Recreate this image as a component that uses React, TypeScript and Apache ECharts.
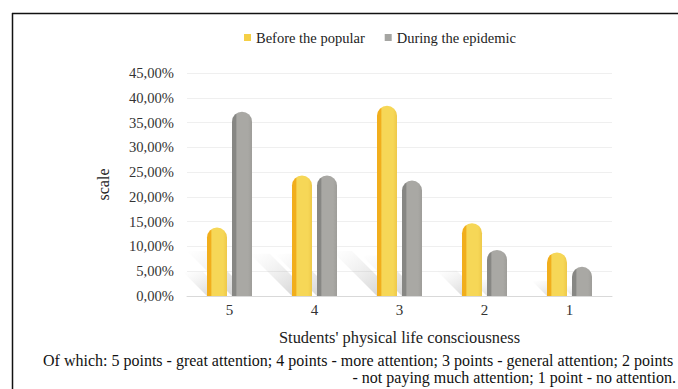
import React, { useEffect, useRef } from "react";
import * as echarts from "echarts";

const categories = ["5", "4", "3", "2", "1"];
const beforeValues = [13.8, 24.3, 38.4, 14.7, 8.8];
const duringValues = [37.2, 24.3, 23.3, 9.3, 5.9];
const seriesNames = ["Before the popular", "During the epidemic"];
const yTicks = { min: 0, max: 45, interval: 5 };
const xAxisName = "Students' physical life consciousness";
const yAxisName = "scale";
const noteLine1 = "Of which: 5 points - great attention; 4 points - more attention; 3 points - general attention; 2 points";
const noteLine2 = "- not paying much attention; 1 point - no attention.";

const FONT = "'Liberation Serif', 'Times New Roman', serif";

function barGradient(edge: string, face: string, faceDark: string) {
  return new echarts.graphic.LinearGradient(0, 0, 1, 0, [
    { offset: 0, color: edge },
    { offset: 0.2, color: edge },
    { offset: 0.24, color: face },
    { offset: 0.8, color: face },
    { offset: 1, color: faceDark },
  ]);
}

export default function App() {
  const ref = useRef<HTMLDivElement>(null);
  useEffect(() => {
    if (!ref.current) return;
    const chart = echarts.init(ref.current, undefined, { renderer: "svg" });
    const shadowData = categories.map((_, i) => [i, beforeValues[i], duringValues[i]]);
    const BW = 20;
    const GAP = 5;
    chart.setOption({
      animation: false,
      backgroundColor: "#ffffff",
      textStyle: { fontFamily: FONT },
      legend: {
        top: 25,
        left: 239,
        itemWidth: 7,
        itemHeight: 7,
        itemGap: 20,
        icon: "rect",
        textStyle: { fontFamily: FONT, fontSize: 14.5, color: "#222" },
        data: [
          { name: seriesNames[0], itemStyle: { color: "#F5CF45" } },
          { name: seriesNames[1], itemStyle: { color: "#A5A5A2" } },
        ],
      },
      grid: { left: 187, right: 66, top: 73, bottom: 93 },
      xAxis: {
        type: "category",
        data: categories,
        axisTick: { show: false },
        axisLine: { lineStyle: { color: "#d9d9d9", width: 1 } },
        axisLabel: { fontFamily: FONT, fontSize: 15, color: "#333", margin: 6 },
        name: xAxisName,
        nameLocation: "middle",
        nameGap: 33,
        nameTextStyle: { fontFamily: FONT, fontSize: 16.4, color: "#222" },
      },
      yAxis: {
        type: "value",
        min: yTicks.min,
        max: yTicks.max,
        interval: yTicks.interval,
        axisLine: { show: false },
        axisTick: { show: false },
        splitLine: { lineStyle: { color: "#efefef", width: 1 } },
        axisLabel: {
          fontFamily: FONT,
          fontSize: 14.6,
          color: "#333",
          margin: 13,
          formatter: (v: number) => v.toFixed(2).replace(".", ",") + "%",
        },
        name: yAxisName,
        nameLocation: "middle",
        nameGap: 76,
        nameTextStyle: { fontFamily: FONT, fontSize: 16, color: "#222" },
      },
      series: [
        {
          type: "custom",
          name: "shadow",
          silent: true,
          z: 0,
          clip: false,
          legendHoverLink: false,
          encode: { x: 0, y: 1 },
          data: shadowData,
          renderItem: (params: any, api: any) => {
            const i = api.value(0);
            const base = api.coord([i, 0]);
            const children: any[] = [];
            [1, 2].forEach((k, j) => {
              const top = api.coord([i, api.value(k)]);
              const h = base[1] - top[1];
              const d = Math.min(h * 0.35, 45);
              const cx = base[0] + (j === 0 ? -(BW + GAP) / 2 : (BW + GAP) / 2);
              const xl = cx - BW / 2;
              const xr = cx + BW / 2;
              const y = base[1];
              children.push({
                type: "polygon",
                shape: {
                  points: [
                    [xl, y],
                    [xr, y],
                    [xr - d, y - d],
                    [xl - d, y - d],
                  ],
                },
                style: {
                  fill: new echarts.graphic.LinearGradient(1, 1, 0, 0, [
                    { offset: 0, color: "rgba(140,140,140,0.45)" },
                    { offset: 1, color: "rgba(200,200,200,0)" },
                  ]),
                },
              });
            });
            return { type: "group", children };
          },
        },
        {
          type: "bar",
          name: seriesNames[0],
          data: beforeValues,
          barWidth: BW,
          barGap: "25%",
          z: 2,
          itemStyle: {
            color: barGradient("#F1AE1C", "#F6D757", "#EEC94A"),
            borderRadius: [10, 10, 0, 0],
          },
        },
        {
          type: "bar",
          name: seriesNames[1],
          data: duringValues,
          barWidth: BW,
          z: 2,
          itemStyle: {
            color: barGradient("#878784", "#A9A8A4", "#9e9d99"),
            borderRadius: [10, 10, 0, 0],
          },
        },
      ],
      graphic: [
        {
          type: "line",
          shape: { x1: 12, y1: 13.5, x2: 678, y2: 13.5 },
          style: { stroke: "#111", lineWidth: 1.5 },
        },
        {
          type: "line",
          shape: { x1: 12.5, y1: 13, x2: 12.5, y2: 389 },
          style: { stroke: "#111", lineWidth: 1.5 },
        },
        {
          type: "text",
          left: 43,
          top: 352,
          style: { text: noteLine1, font: `16px ${FONT}`, fill: "#111" },
        },
        {
          type: "text",
          right: 2,
          top: 369,
          style: { text: noteLine2, font: `16px ${FONT}`, fill: "#111" },
        },
      ],
    });
    return () => chart.dispose();
  }, []);
  return (
    <div
      ref={ref}
      style={{ position: "absolute", left: 0, top: 0, width: 678, height: 389 }}
    />
  );
}
